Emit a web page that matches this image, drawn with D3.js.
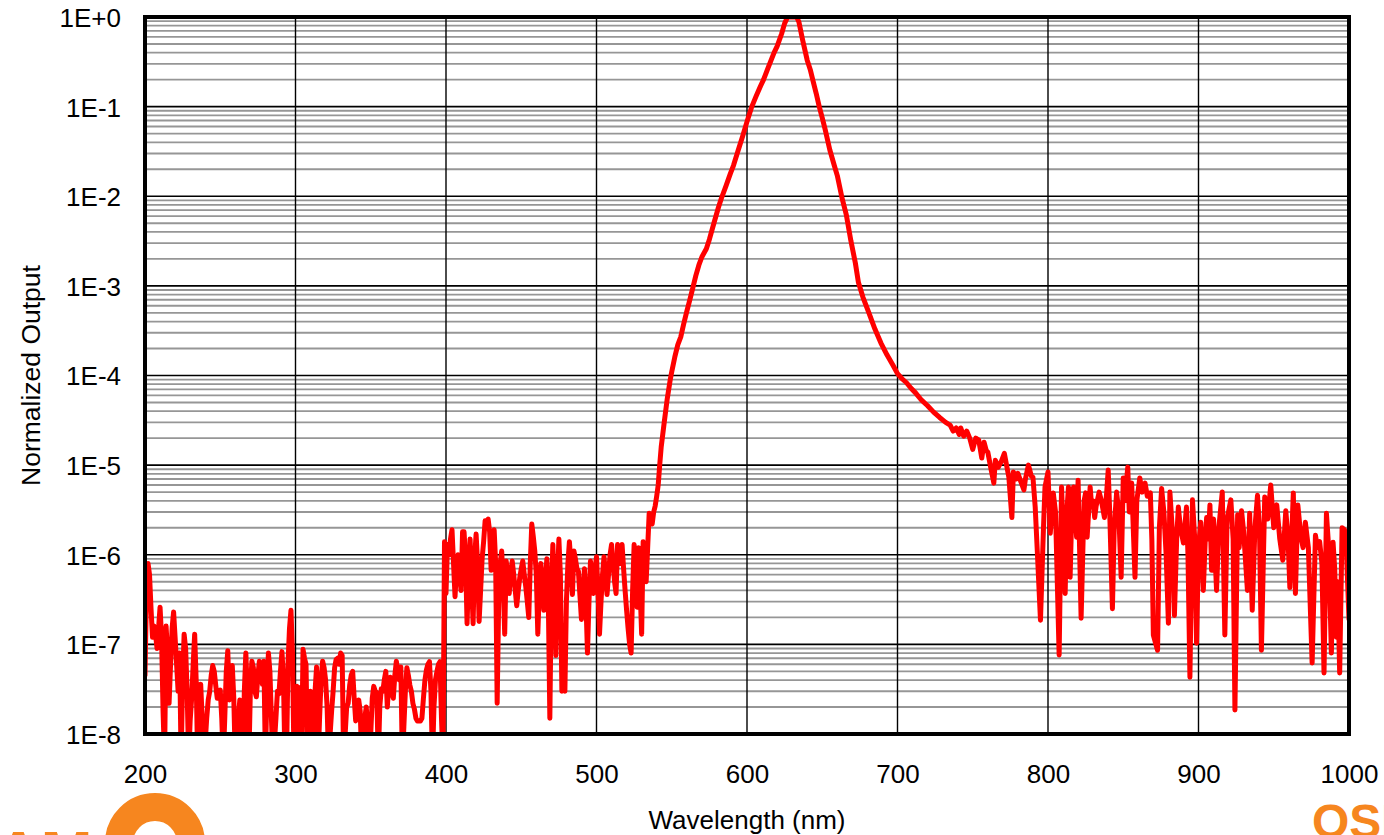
<!DOCTYPE html>
<html>
<head>
<meta charset="utf-8">
<script src="https://cdn.jsdelivr.net/npm/d3@7"></script>
<style>
  html, body { margin: 0; padding: 0; background: #ffffff; overflow: hidden; }
  svg { display: block; }
  text { font-family: Arial, "Liberation Sans", sans-serif; }
</style>
</head>
<body>
<svg id="chart" width="1384" height="835"></svg>
<script>
// ---------------- DATA ----------------
const xTickValues = [200, 300, 400, 500, 600, 700, 800, 900, 1000];
const yTickValues = [1, 1e-1, 1e-2, 1e-3, 1e-4, 1e-5, 1e-6, 1e-7, 1e-8];
const yTickLabels = ["1E+0", "1E-1", "1E-2", "1E-3", "1E-4", "1E-5", "1E-6", "1E-7", "1E-8"];
const xTitle = "Wavelength (nm)";
const yTitle = "Normalized Output";

// [wavelength nm, normalized output] — UV noise floor (values below 1E-8 are clipped)
const uvNoise = [
  [200,4.5e-8],[201,4e-7],[202,8e-7],[203,6e-7],[204,2.5e-7],[205,1.2e-7],[206,1.6e-7],[207,1.3e-7],[208,9e-8],[209,1.5e-7],
  [210,2.6e-7],[211,1.2e-7],[212,1.8e-8],[213,5e-9],[214,1.6e-7],[215,8e-8],[216,2.2e-8],[217,6e-8],[218,1.5e-7],[219,2.3e-7],
  [220,1.2e-7],[221,6e-8],[222,3e-8],[223,8e-8],[224,5e-9],[225,4e-8],[226,1.3e-7],[227,9e-8],[228,3e-8],[229,5e-9],
  [230,1.4e-8],[231,2.5e-8],[232,6e-8],[233,1.3e-7],[234,4e-8],[235,5e-9],[236,1.2e-8],[237,3.6e-8],[238,1.5e-8],[239,5e-9],
  [240,8e-9],[241,1.5e-8],[242,2.4e-8],[243,3e-8],[244,4.5e-8],[245,5.8e-8],[246,5e-8],[247,3.5e-8],[248,2.5e-8],[249,2.8e-8],
  [250,3.1e-8],[251,1.5e-8],[252,5e-9],[253,1.5e-8],[254,5e-8],[255,8.5e-8],[256,2.4e-8],[257,4e-8],[258,5.8e-8],[259,2.5e-8],
  [260,5e-9],[261,8e-9],[262,1.5e-8],[263,2.4e-8],[264,1.2e-8],[265,5e-9],[266,3e-8],[267,8e-8],[268,3e-8],[269,5e-9],
  [270,3e-8],[271,6.5e-8],[272,5.5e-8],[273,3e-8],[274,2.6e-8],[275,4.5e-8],[276,6.5e-8],[277,5e-8],[278,3.6e-8],[279,6.5e-8],
  [280,5e-9],[281,3e-8],[282,8e-8],[283,5e-8],[284,1.5e-8],[285,5e-9],[286,8e-9],[287,1.5e-8],[288,3e-8],[289,2.8e-8],
  [290,5e-8],[291,8.3e-8],[292,4e-8],[293,5e-9],[294,5e-9],[295,6e-8],[296,1.5e-7],[297,2.4e-7],[298,8e-8],[299,5e-9],
  [300,1e-8],[301,3.4e-8],[302,3.3e-8],[303,1.5e-8],[304,5e-9],[305,8.8e-8],[306,7e-8],[307,6e-8],[308,5e-9],[309,1.5e-8],
  [310,3e-8],[311,2e-8],[312,5e-9],[313,3e-8],[314,5.6e-8],[315,5e-9],[316,1.5e-8],[317,4e-8],[318,6.5e-8],[319,5.5e-8],
  [320,4e-8],[321,2e-8],[322,5e-9],[323,1e-8],[324,1.8e-8],[325,3e-8],[326,5.5e-8],[327,6.8e-8],[328,7e-8],[329,6e-8],
  [330,8e-8],[331,7.5e-8],[332,5e-9],[333,1e-8],[334,2e-8],[335,2.2e-8],[336,3.5e-8],[337,4.5e-8],[338,5e-8],[339,2.5e-8],
  [340,1.4e-8],[341,1.6e-8],[342,2.4e-8],[343,1.8e-8],[344,5e-9],[345,8e-9],[346,1.5e-8],[347,2e-8],[348,1.2e-8],[349,5e-9],
  [350,1e-8],[351,2.5e-8],[352,3.4e-8],[353,3e-8],[354,2.9e-8],[355,5e-9],[356,2e-8],[357,3.2e-8],[358,3e-8],[359,4e-8],
  [360,5e-8],[361,2e-8],[362,3.5e-8],[363,4.3e-8],[364,3e-8],[365,2.5e-8],[366,4.5e-8],[367,6.5e-8],[368,5e-8],[369,4e-8],
  [370,5.6e-8],[371,5e-9],[372,1.2e-8],[373,3e-8],[374,5.5e-8],[375,4.5e-8],[376,3.5e-8],[377,3e-8],[378,2.2e-8],[379,1.9e-8],
  [380,1.5e-8],[381,1.4e-8],[382,1.4e-8],[383,1.4e-8],[384,1.5e-8],[385,2.5e-8],[386,4e-8],[387,5.2e-8],[388,6e-8],[389,6.4e-8],
  [390,3e-8],[391,5e-9],[392,2e-8],[393,4e-8],[394,5e-8],[395,6e-8],[396,6.4e-8],[397,1.5e-8],[398,5e-9]
];

// Visible/blue noise plateau
const blueNoise = [
  [399,1.4e-6],[400,3.7e-7],[401,1.3e-6],[402,1.0e-6],[403,1.5e-6],[404,1.9e-6],[405,8e-7],[406,3.4e-7],[407,7e-7],[408,1.0e-6],
  [409,6e-7],[410,4e-7],[411,1.8e-6],[412,1.8e-6],[413,9e-7],[414,1.7e-7],[415,6e-7],[416,1.5e-6],[417,5e-7],[418,1.7e-7],
  [419,9e-7],[420,1.7e-6],[421,8e-7],[422,1.8e-7],[423,4e-7],[424,9e-7],[425,1.4e-6],[426,2.4e-6],[427,2.3e-6],[428,2.5e-6],
  [429,1.8e-6],[430,6.7e-7],[431,1.2e-6],[432,1.9e-6],[433,8e-7],[434,2.2e-8],[435,3e-7],[436,8e-7],[437,1.1e-6],[438,5e-7],
  [439,1.3e-7],[440,8.5e-7],[441,6e-7],[442,3.7e-7],[443,6e-7],[444,8.5e-7],[445,6e-7],[446,4e-7],[447,2.7e-7],[448,4e-7],
  [449,5.5e-7],[450,7e-7],[451,8.5e-7],[452,6e-7],[453,4.4e-7],[454,3e-7],[455,2e-7],[456,8e-7],[457,2.2e-6],[458,1.6e-6],
  [459,1.1e-6],[460,6e-7],[461,1.3e-7],[462,4e-7],[463,8e-7],[464,5e-7],[465,2.4e-7],[466,5e-7],[467,9e-7],[468,3e-7],
  [469,1.5e-8],[470,4e-7],[471,1.3e-6],[472,4e-7],[473,7.5e-8],[474,5e-7],[475,1.5e-6],[476,6e-7],[477,3e-8],[478,1e-7],
  [479,3e-8],[480,3e-7],[481,8e-7],[482,1.4e-6],[483,8e-7],[484,3.6e-7],[485,1.1e-6],[486,9e-7],[487,7e-7],[488,6.5e-7],
  [489,3.5e-7],[490,1.9e-7],[491,4e-7],[492,7e-7],[493,3e-7],[494,8e-8],[495,3e-7],[496,8.5e-7],[497,5e-7],[498,3.7e-7],
  [499,7e-7],[500,9.5e-7],[501,4e-7],[502,1.3e-7],[503,3e-7],[504,6e-7],[505,9.5e-7],[506,6e-7],[507,3.6e-7],[508,6e-7],
  [509,1e-6],[510,1.3e-6],[511,8e-7],[512,5e-7],[513,3.7e-7],[514,1.3e-6],[515,1.2e-6],[516,8e-7],[517,1.3e-6],[518,7e-7],
  [519,4e-7],[520,2.4e-7],[521,1.5e-7],[522,1e-7],[523,8e-8],[524,4e-7],[525,1.3e-6],[526,6e-7],[527,2.6e-7],[528,1.2e-6],
  [529,4e-7],[530,1.3e-7],[531,1.4e-6],[532,9e-7],[533,5e-7],[534,1.2e-6],[535,2.9e-6],[536,2.5e-6],[537,2.2e-6],[538,3e-6],
  [539,3.5e-6],[540,4.5e-6]
];

// Main emission peak and its red tail
const emissionPeak = [
  [541,6e-6],[542,1e-5],[543,1.6e-5],[545,3e-5],[547,5.5e-5],[549,9e-5],[550,1.1e-4],[552,1.6e-4],[554,2.2e-4],[556,2.7e-4],
  [558,3.8e-4],[560,5.2e-4],[562,7e-4],[564,9.5e-4],[566,1.3e-3],[568,1.7e-3],[570,2.1e-3],[573,2.6e-3],[575,3.3e-3],[578,5e-3],
  [581,7.5e-3],[583,9.5e-3],[586,1.3e-2],[589,1.8e-2],[591,2.2e-2],[594,3.2e-2],[597,4.6e-2],[600,6.8e-2],[603,9.8e-2],[606,0.13],
  [609,0.17],[611,0.2],[614,0.27],[618,0.4],[620,0.47],[623,0.65],[625,0.85],[627,1.0],[633,1.0],[634.5,0.88],
  [637,0.55],[640,0.33],[642,0.26],[644,0.19],[646,0.14],[648,0.1],[650,0.075],[652,0.055],[655,0.033],[658,0.022],
  [660,0.017],[663,0.0098],[666,0.0062],[669,0.0032],[672,0.0018],[674,0.0011],[677,7.5e-4],[681,5e-4],[685,3.3e-4],[689,2.3e-4],
  [693,1.7e-4],[697,1.3e-4],[700,1.05e-4],[703,9.2e-5],[706,8.3e-5],[709,7.2e-5],[712,6.4e-5],[716,5.3e-5],[720,4.6e-5],[724,3.9e-5],
  [728,3.4e-5],[732,3e-5],[735,2.8e-5],[737,2.4e-5],[739,2.6e-5],[741,2.2e-5],[742,2.6e-5],[744,2.1e-5],[746,2.4e-5],[748,2e-5],
  [750,1.5e-5],[752,2e-5],[754,1.9e-5],[756,1.2e-5],[757.5,1.8e-5],[759,1.45e-5]
];

// Near-infrared noise floor
const irNoise = [
  [760,1.4e-5],[762,9.3e-6],[764,6.3e-6],[765,1.13e-5],[767,9.5e-6],[769,1.1e-5],[771,1.35e-5],[774,7.3e-6],[776,2.6e-6],[777,8.4e-6],
  [779,7e-6],[780,8.1e-6],[782,6.5e-6],[784,5.3e-6],[785,7e-6],[787,1e-5],[789,7.5e-6],[790,7.3e-6],[791.5,3.4e-6],[793,1e-6],
  [795,1.86e-7],[797,2e-6],[798,5.7e-6],[800,8.4e-6],[801.5,1.74e-6],[803.5,4.9e-6],[805,3e-6],[807.4,7.6e-8],[809,5.7e-6],[810,2e-6],
  [811.4,3.7e-7],[812.5,3e-6],[813.6,5.7e-6],[814.7,5.6e-7],[816,4e-6],[817,5.7e-6],[819,1.57e-6],[820,6.8e-6],[822,1.96e-7],[824,4e-6],
  [825,4.9e-6],[826,1.57e-6],[828,5.7e-6],[829,3.5e-6],[830,4e-6],[831,2.6e-6],[832,3.5e-6],[834,5e-6],[835.5,4e-6],[837.5,2.6e-6],
  [839,5e-6],[840,8.8e-6],[841,3e-6],[842.8,2.5e-7],[844,2e-6],[845.6,5e-6],[847,3e-6],[848.6,5.6e-7],[850,7.2e-6],[851,4e-6],
  [853,9.5e-6],[854,3e-6],[855.6,6.3e-6],[857.8,5.6e-7],[859,4e-6],[861,7.2e-6],[862.5,5e-6],[864.5,6.3e-6],[866,4.5e-6],[868,4.9e-6],
  [869,1.5e-6],[870,1.27e-7],[872.8,8.6e-8],[874,2e-6],[875.5,5.5e-6],[877,3e-6],[878.5,1e-6],[880,1.72e-7],[881,5e-6],[882.5,2e-6],
  [884,2.1e-7],[885.5,1.5e-6],[886.6,3.4e-6],[888,2e-6],[890,1.35e-6],[892,3.4e-6],[893,1e-6],[894.3,4.3e-8],[896,4.1e-6],[897.5,1.5e-6],
  [898.7,1.03e-7],[900,1.2e-6],[901.5,2.3e-6],[903.2,4e-7],[904.5,1.5e-6],[905.4,2.6e-6],[906.5,1.5e-6],[907.6,3.6e-6],[908.7,6.7e-7],[910,2.5e-6],
  [912,4e-7],[913.5,2e-6],[915.8,5e-6],[917.5,1.27e-7],[919,2.5e-6],[921.5,4.1e-6],[923,1.5e-6],[924.2,1.85e-8],[926,2.8e-6],[927,1.2e-6],
  [928.6,3.1e-6],[930,1.8e-6],[932.5,4e-7],[934,2.9e-6],[935.7,2.4e-7],[937.5,2e-6],[939.2,4.6e-6],[940.5,2e-6],[941.8,8.6e-8],[944,4.4e-6],
  [946,2.5e-6],[948,6e-6],[950,2e-6],[952,3.6e-6],[954,1.5e-6],[956,8.7e-7],[958,3.1e-6],[959.5,1.5e-6],[960.7,4.3e-7],[963,4.9e-6],
  [964.4,3.7e-7],[966,3.6e-6],[968,1.6e-6],[969.5,1.2e-6],[971,2.3e-6],[973,1.2e-6],[975.5,6.2e-8],[977.7,1.65e-6],[979,1.2e-6],[980.5,1.4e-6],
  [982,8e-7],[983.4,4.8e-8],[985,2.9e-6],[986.5,1.2e-6],[988.3,8e-8],[989.4,1.38e-6],[990.5,7e-7],[991.6,1.2e-7],[992.5,5e-7],[993.8,4.8e-8],
  [995.4,2e-6],[997,1.9e-6],[998,1.5e-6],[1000,1.9e-7]
];

// ---------------- CHART ----------------
const series = uvNoise.concat(blueNoise, emissionPeak, irNoise);

const plot = { left: 145, right: 1349, top: 17, bottom: 734 };
const svg = d3.select("#chart");

const x = d3.scaleLinear().domain([200, 1000]).range([plot.left, plot.right]);
const y = d3.scaleLog().domain([1e-8, 1]).range([plot.bottom, plot.top]);

// decorative brand fragments at the bottom edge
const orange = "#F6861F";
svg.append("circle").attr("cx", 155).attr("cy", 843).attr("r", 36)
  .attr("fill", "none").attr("stroke", orange).attr("stroke-width", 28);
svg.append("text").attr("x", -4).attr("y", 874).attr("font-size", 62).attr("font-weight", "bold")
  .attr("fill", orange).text("AM");
svg.append("text").attr("x", 1312).attr("y", 838).attr("font-size", 48).attr("font-weight", "bold")
  .attr("fill", orange).text("OSRAM");

// minor horizontal grid
const minorVals = [];
for (let e = -8; e < 0; e++) for (let k = 2; k <= 9; k++) minorVals.push(k * Math.pow(10, e));
const grid = svg.append("g");
grid.selectAll("line.minor").data(minorVals).join("line")
  .attr("class", "minor")
  .attr("x1", plot.left).attr("x2", plot.right)
  .attr("y1", d => y(d)).attr("y2", d => y(d))
  .attr("stroke", "#969696").attr("stroke-width", 1.8);

// major horizontal grid
grid.selectAll("line.major").data(yTickValues).join("line")
  .attr("class", "major")
  .attr("x1", plot.left).attr("x2", plot.right)
  .attr("y1", d => y(d)).attr("y2", d => y(d))
  .attr("stroke", "#000").attr("stroke-width", 1.6);

// vertical grid
grid.selectAll("line.vert").data(xTickValues).join("line")
  .attr("class", "vert")
  .attr("x1", d => x(d)).attr("x2", d => x(d))
  .attr("y1", plot.top).attr("y2", plot.bottom)
  .attr("stroke", "#000").attr("stroke-width", 1.4);

// clip
svg.append("clipPath").attr("id", "clip").append("rect")
  .attr("x", plot.left).attr("y", plot.top)
  .attr("width", plot.right - plot.left).attr("height", plot.bottom - plot.top);

const line = d3.line().x(d => x(d[0])).y(d => y(d[1]));
svg.append("path").datum(series)
  .attr("clip-path", "url(#clip)")
  .attr("d", line)
  .attr("fill", "none").attr("stroke", "#FF0000").attr("stroke-width", 5)
  .attr("stroke-linejoin", "round").attr("stroke-linecap", "round");

// frame
svg.append("rect").attr("x", plot.left).attr("y", plot.top)
  .attr("width", plot.right - plot.left).attr("height", plot.bottom - plot.top)
  .attr("fill", "none").attr("stroke", "#000").attr("stroke-width", 4);

// axes (labels only)
const yAxis = d3.axisLeft(y).tickValues(yTickValues)
  .tickFormat((d, i) => yTickLabels[i]).tickSize(0).tickPadding(24);
const gy = svg.append("g").attr("transform", `translate(${plot.left},0)`).call(yAxis);
gy.select(".domain").remove();
gy.selectAll("text").attr("font-size", 26).attr("font-family", "Arial, 'Liberation Sans', sans-serif")
  .attr("fill", "#000").attr("dy", "0.36em");

const xAxis = d3.axisBottom(x).tickValues(xTickValues).tickFormat(d => String(d)).tickSize(0).tickPadding(31);
const gx = svg.append("g").attr("transform", `translate(0,${plot.bottom})`).call(xAxis);
gx.select(".domain").remove();
gx.selectAll("text").attr("font-size", 26).attr("font-family", "Arial, 'Liberation Sans', sans-serif")
  .attr("fill", "#000");

// titles
svg.append("text").attr("x", (plot.left + plot.right) / 2).attr("y", 829)
  .attr("text-anchor", "middle").attr("font-size", 26).attr("fill", "#000").text(xTitle);
svg.append("text").attr("transform", "translate(40,486) rotate(-90)")
  .attr("text-anchor", "start").attr("font-size", 26.5).attr("fill", "#000").text(yTitle);
</script>
</body>
</html>
